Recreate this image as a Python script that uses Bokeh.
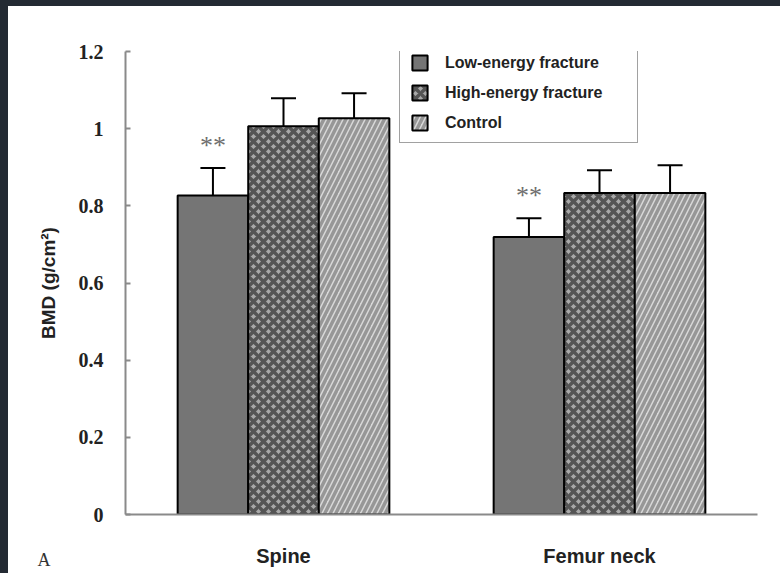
from bokeh.plotting import figure
from bokeh.models import (ColumnDataSource, FactorRange, Range1d, FixedTicker,
                          Whisker, TeeHead, Title)
from bokeh.transform import dodge
from bokeh.layouts import column
from bokeh.core.properties import value
from bokeh.embed import file_html
from bokeh.resources import INLINE

# ---- data: bone mineral density (mean and SD) per site and group ----
sites = ["Spine", "Femur neck"]
groups = ["Low-energy fracture", "High-energy fracture", "Control"]
low_mean = [0.827, 0.719]
low_sd = [0.071, 0.049]
high_mean = [1.006, 0.833]
high_sd = [0.073, 0.059]
ctrl_mean = [1.027, 0.833]
ctrl_sd = [0.065, 0.072]
sig_marks = ["**", "**"]
y_ticks = [0, 0.2, 0.4, 0.6, 0.8, 1.0, 1.2]
y_tick_labels = ["0", "0.2", "0.4", "0.6", "0.8", "1", "1.2"]
panel_letter = "A"

src = ColumnDataSource(dict(
    site=sites,
    low=low_mean, low_up=[m + s for m, s in zip(low_mean, low_sd)],
    high=high_mean, high_up=[m + s for m, s in zip(high_mean, high_sd)],
    ctrl=ctrl_mean, ctrl_up=[m + s for m, s in zip(ctrl_mean, ctrl_sd)],
    sig=sig_marks,
))

p = figure(
    width=772, height=567,
    x_range=FactorRange(*sites, range_padding=0, factor_padding=0),
    y_range=Range1d(0, 1.2),
    output_backend="svg", toolbar_location=None,
    min_border_left=117, min_border_right=23,
    min_border_top=45, min_border_bottom=59,
)
p.margin = (6, 0, 0, 8)
p.styles = {"background-color": "white"}
p.outline_line_color = None
p.background_fill_color = "white"
p.border_fill_color = "white"
p.xgrid.grid_line_color = None
p.ygrid.grid_line_color = None

w = 0.2233
styles = [
    dict(col="low", up="low_up", off=-w, fill_color="#757575"),
    dict(col="high", up="high_up", off=0.0, fill_color="#a9a9a9",
         hatch_pattern="diagonal_cross", hatch_color="#555555",
         hatch_scale=10, hatch_weight=3.5),
    dict(col="ctrl", up="ctrl_up", off=w, fill_color="#d9d9d9",
         hatch_pattern="right_diagonal_line", hatch_color="#979797",
         hatch_scale=11, hatch_weight=3.5),
]

for grp, st in zip(groups, styles):
    xs = dodge("site", st["off"], range=p.x_range)
    extra = {k: v for k, v in st.items() if k.startswith("hatch") or k == "fill_color"}
    p.vbar(x=xs, top=st["col"], width=w, source=src,
           line_color="black", line_width=2, legend_label=grp, **extra)
    p.add_layout(Whisker(
        base=xs, lower=st["col"], upper=st["up"], source=src,
        dimension="height", line_color="black", line_width=2,
        upper_head=TeeHead(size=25, line_color="black", line_width=2),
        lower_head=None, level="overlay"))

# significance markers over the low-energy bars
p.text(x=dodge("site", -w, range=p.x_range), y="low_up", text="sig", source=src,
       text_font=value("Liberation Serif"), text_font_size="26px",
       text_color="#6e6e6e", text_align="center", text_baseline="alphabetic",
       y_offset=-23)

# axes
p.yaxis.ticker = FixedTicker(ticks=y_ticks)
p.yaxis.major_label_overrides = {t: s for t, s in zip(y_ticks, y_tick_labels)}
p.yaxis.major_label_text_font = "Liberation Serif"
p.yaxis.major_label_text_font_style = "bold"
p.yaxis.major_label_text_font_size = "20px"
p.yaxis.major_label_text_color = "#222222"
p.yaxis.major_tick_in = 5
p.yaxis.major_tick_out = 0
p.yaxis.minor_tick_line_color = None
p.yaxis.major_tick_line_color = "#8a8a8a"
p.yaxis.major_tick_line_width = 2
p.yaxis.major_label_standoff = 22
p.yaxis.axis_label = "BMD (g/cm\u00b2)"
p.yaxis.axis_label_text_font = "Liberation Sans"
p.yaxis.axis_label_text_font_style = "bold"
p.yaxis.axis_label_text_font_size = "19px"
p.yaxis.axis_label_text_color = "#222222"
p.yaxis.axis_label_standoff = 17

p.xaxis.major_tick_line_color = None
p.xaxis.major_label_text_font = "Liberation Sans"
p.xaxis.major_label_text_font_style = "bold"
p.xaxis.major_label_text_font_size = "20px"
p.xaxis.major_label_text_color = "#222222"
p.xaxis.major_label_standoff = 24

for ax in (p.xaxis, p.yaxis):
    ax.axis_line_color = "#8a8a8a"
    ax.axis_line_width = 2

# group legend
lg = p.legend[0]
lg.location = (274, 371)
lg.border_line_color = "#444444"
lg.border_line_width = 1.5
lg.background_fill_color = "white"
lg.background_fill_alpha = 1
lg.padding = 10
lg.spacing = 11
lg.glyph_width = 19
lg.glyph_height = 19
lg.label_height = 19
lg.label_standoff = 16
lg.label_width = 182
lg.label_text_font = "Liberation Sans"
lg.label_text_font_style = "bold"
lg.label_text_font_size = "16px"
lg.label_text_color = "#222222"
lg.margin = 0

# panel letter in the lower-left corner, level with the category labels
p.add_layout(Title(text=panel_letter, align="left", offset=-88, standoff=-40,
                   vertical_align="top", text_font="Liberation Serif",
                   text_font_size="18px", text_font_style="normal",
                   text_color="#333333"), "below")

layout = column(p, styles={"background-color": "#232a33"})
open("out.html", "w").write(file_html(layout, INLINE))
